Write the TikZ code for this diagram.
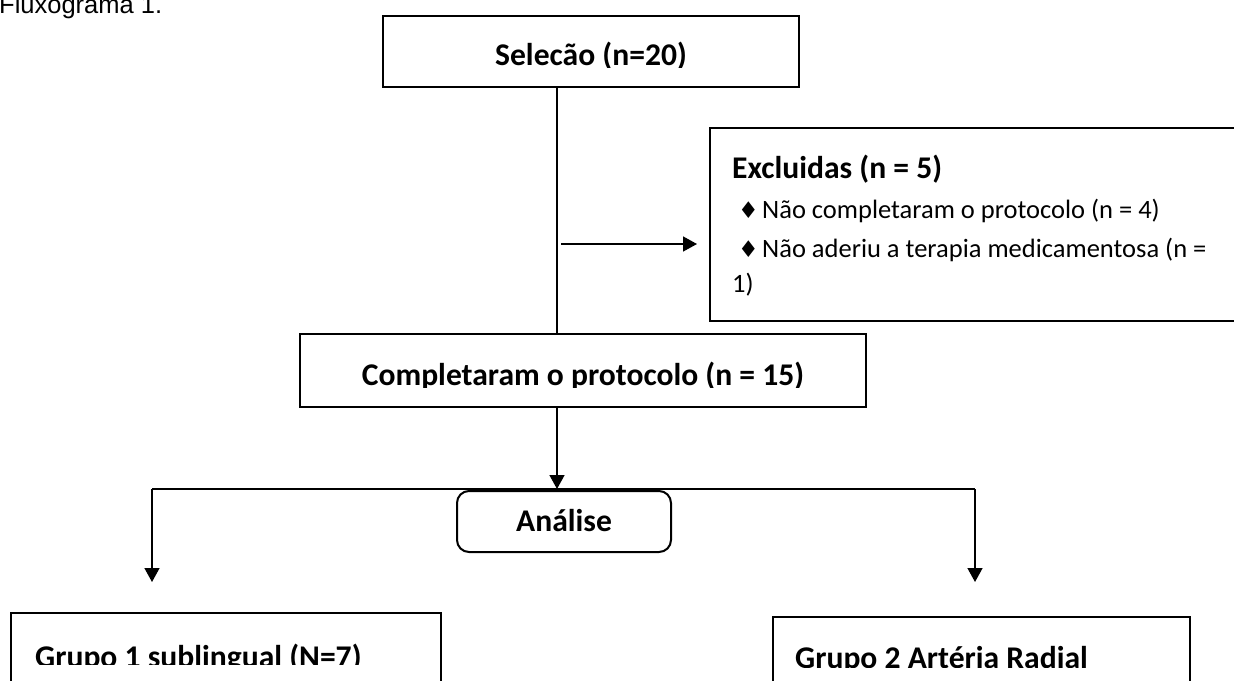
\documentclass[tikz,border=0pt]{standalone}
\usepackage{fontspec}
\setmainfont{Carlito}
\newfontfamily\arialfont{Liberation Sans}
\newfontfamily\symfont{DejaVu Sans}
\usetikzlibrary{arrows.meta}
\newcommand{\dmark}{\makebox[30pt][l]{\hspace{6pt}{\symfont\fontsize{23}{24}\selectfont ♦}}}
\begin{document}
\begin{tikzpicture}[x=1pt,y=-1pt,
  box/.style={draw, line width=2pt, inner sep=0pt, outer sep=0pt},
  conn/.style={line width=1.5pt},
  arr/.style={conn, -{Triangle[length=14pt,width=15pt]}},
  head/.style={inner sep=0pt, font=\fontsize{31.6}{38}\selectfont\bfseries},
  body/.style={inner sep=0pt, anchor=base west, font=\fontsize{26.5}{32}\selectfont}
]
\useasboundingbox[fill=white] (0,0) rectangle (1234,680);

% caption
\node[inner sep=0pt, anchor=base west, font=\arialfont\fontsize{25.5}{30}\selectfont] (cap) at (-1,13) {Fluxograma 1.};

% boxes
\node[box, minimum width=416pt, minimum height=71pt] (sel) at (591,51.5) {};
\node[box, minimum width=530pt, minimum height=193pt] (excl) at (975,224.5) {};
\node[box, minimum width=566pt, minimum height=73pt] (comp) at (583,370.5) {};
\node[box, rounded corners=12pt, minimum width=214pt, minimum height=61pt] (anal) at (564,521.5) {};
\node[box, minimum width=430pt, minimum height=87pt] (g1) at (226,656.5) {};
\node[box, minimum width=417pt, minimum height=83pt] (g2) at (981.5,658.5) {};

% texts (clipped like the original text boxes)
\begin{scope}
  \clip (383,16) rectangle (799,67);
  \node[head, anchor=base] (seltxt) at (591,65) {Selecão (n=20)};
\end{scope}
\begin{scope}
  \clip (300,334) rectangle (866,387.5);
  \node[head, anchor=base] (comptxt) at (583,385) {Completaram o protocolo (n = 15)};
\end{scope}
\begin{scope}
  \clip (11,613) rectangle (441,664.5);
  \node[head, anchor=base west] (g1txt) at (35,667) {Grupo 1 sublingual (N=7)};
\end{scope}
\begin{scope}
  \clip (773,617) rectangle (1190,667.5);
  \node[head, anchor=base west] (g2txt) at (795,668) {Grupo 2 Artéria Radial};
\end{scope}
\node[head, anchor=base] (analtxt) at (564,531) {Análise};

\node[head, anchor=base west] (exh) at (732,178) {Excluidas (n = 5)};
\node[body] (ex1) at (732,218) {\dmark Não completaram o protocolo (n = 4)};
\node[body] (ex2) at (732,257) {\dmark Não aderiu a terapia medicamentosa (n =};
\node[body] (ex3) at (732,292) {1)};

% connectors
\coordinate (trunk) at (557,244);
\coordinate (split) at (557,489);
\coordinate (hl) at (152,489);
\coordinate (hr) at (975,489);
\draw[conn] (sel.south -| trunk) -- (comp.north -| trunk);
\draw[arr, shorten >=13pt] ([xshift=4pt]trunk) -- (excl.west |- trunk);
\draw[arr] (comp.south -| split) -- (split);
\draw[conn] (hl) -- (hr);
\draw[arr, shorten >=31pt] (hl) -- (g1.north -| hl);
\draw[arr, shorten >=35pt] (hr) -- (g2.north -| hr);
\end{tikzpicture}
\end{document}
